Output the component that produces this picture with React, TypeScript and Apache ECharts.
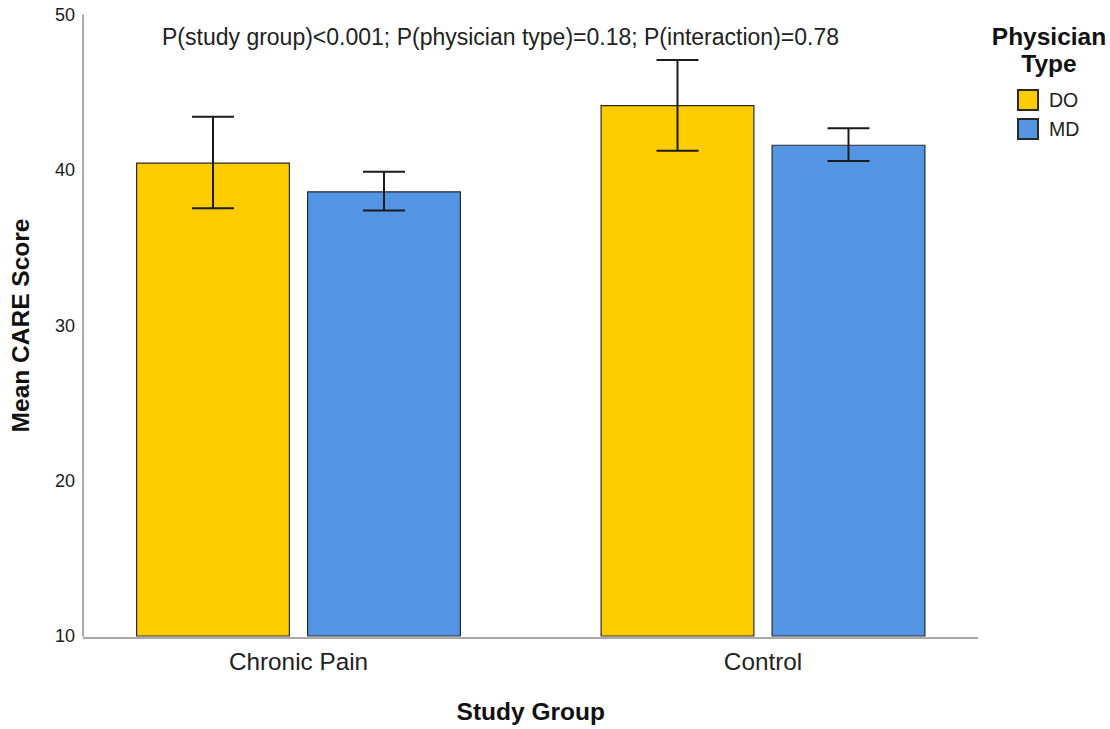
import React, { useEffect, useRef } from "react";
import * as echarts from "echarts";

const categories = ["Chronic Pain", "Control"];
const physicianTypes = ["DO", "MD"];
const doMeans = [40.5, 44.2];
const mdMeans = [38.65, 41.65];
const doLow = [37.55, 41.25];
const doHigh = [43.45, 47.1];
const mdLow = [37.4, 40.6];
const mdHigh = [39.9, 42.7];
const yTicks = { min: 10, max: 50, interval: 10 };
const annotation = "P(study group)<0.001; P(physician type)=0.18; P(interaction)=0.78";

const FONT = "'Liberation Sans', Arial, sans-serif";
const BAR_W = 154;
const BAR_GAP_PX = 17;
const CAP_W = 42;

export default function App() {
  const ref = useRef<HTMLDivElement>(null);
  useEffect(() => {
    document.body.style.margin = "0";
    const chart = echarts.init(ref.current!, null, { renderer: "svg" });
    const offset = (BAR_W + BAR_GAP_PX) / 2;
    const errSeries = (name: string, lows: number[], highs: number[], dx: number) => ({
      type: "custom",
      name,
      z: 5,
      data: categories.map((_, i) => [i, lows[i], highs[i]]),
      renderItem: (params: any, api: any) => {
        const lo = api.coord([api.value(0), api.value(1)]);
        const hi = api.coord([api.value(0), api.value(2)]);
        const x = lo[0] + dx;
        const st = { stroke: "#1a1a1a", lineWidth: 2 };
        return {
          type: "group",
          children: [
            { type: "line", shape: { x1: x, y1: lo[1], x2: x, y2: hi[1] }, style: st },
            { type: "line", shape: { x1: x - CAP_W / 2, y1: lo[1], x2: x + CAP_W / 2, y2: lo[1] }, style: st },
            { type: "line", shape: { x1: x - CAP_W / 2, y1: hi[1], x2: x + CAP_W / 2, y2: hi[1] }, style: st },
          ],
        };
      },
    });
    chart.setOption({
      animation: false,
      grid: { left: 66.25, top: 15, width: 929, height: 623, containLabel: false },
      legend: {
        data: physicianTypes,
        orient: "vertical",
        left: 1017,
        top: 89,
        padding: 0,
        itemWidth: 20,
        itemHeight: 20,
        itemGap: 7,
        icon: "rect",
        textStyle: { fontFamily: FONT, fontSize: 19.5, color: "#222", padding: [0, 0, 0, 6] },
      },
      xAxis: {
        type: "category",
        data: categories,
        axisLine: { show: false },
        axisTick: { show: false },
        axisLabel: { fontFamily: FONT, fontSize: 24.3, color: "#222", margin: 13 },
        name: "Study Group",
        nameLocation: "middle",
        nameGap: 63,
        nameTextStyle: { fontFamily: FONT, fontSize: 24.5, fontWeight: "bold", color: "#111" },
      },
      yAxis: {
        type: "value",
        min: yTicks.min,
        max: yTicks.max,
        interval: yTicks.interval,
        offset: -16.75,
        axisLine: { show: true, lineStyle: { color: "#8c8c8c", width: 1.5 } },
        axisTick: { show: false },
        splitLine: { show: false },
        axisLabel: { fontFamily: FONT, fontSize: 18, color: "#1a1a1a", margin: 8 },
        name: "Mean CARE Score",
        nameLocation: "middle",
        nameGap: 50,
        nameTextStyle: { fontFamily: FONT, fontSize: 24.5, fontWeight: "bold", color: "#111" },
      },
      graphic: [
        {
          type: "line",
          shape: { x1: 83, y1: 638, x2: 978, y2: 638 },
          style: { stroke: "#8c8c8c", lineWidth: 1.5 },
          z: 1,
        },
        {
          type: "text",
          x: 500.5,
          y: 37,
          style: {
            text: annotation,
            fontFamily: FONT,
            fontSize: 23,
            fill: "#222",
            textAlign: "center",
            textVerticalAlign: "middle",
          },
        },
        {
          type: "text",
          x: 1049,
          y: 23,
          style: {
            text: "Physician\nType",
            fontFamily: FONT,
            fontSize: 24.5,
            fontWeight: "bold",
            lineHeight: 27,
            fill: "#111",
            textAlign: "center",
            textVerticalAlign: "top",
          },
        },
      ],
      series: [
        {
          type: "bar",
          name: "DO",
          data: doMeans,
          barWidth: BAR_W,
          barGap: `${(BAR_GAP_PX / BAR_W) * 100}%`,
          itemStyle: { color: "#FFCC00", borderColor: "#2a2a2a", borderWidth: 1.2 },
        },
        {
          type: "bar",
          name: "MD",
          data: mdMeans,
          barWidth: BAR_W,
          barGap: `${(BAR_GAP_PX / BAR_W) * 100}%`,
          itemStyle: { color: "#5495E3", borderColor: "#2a2a2a", borderWidth: 1.2 },
        },
        errSeries("DO error", doLow, doHigh, -offset),
        errSeries("MD error", mdLow, mdHigh, offset),
      ],
    });
    return () => chart.dispose();
  }, []);
  return <div ref={ref} style={{ width: 1110, height: 729 }} />;
}
